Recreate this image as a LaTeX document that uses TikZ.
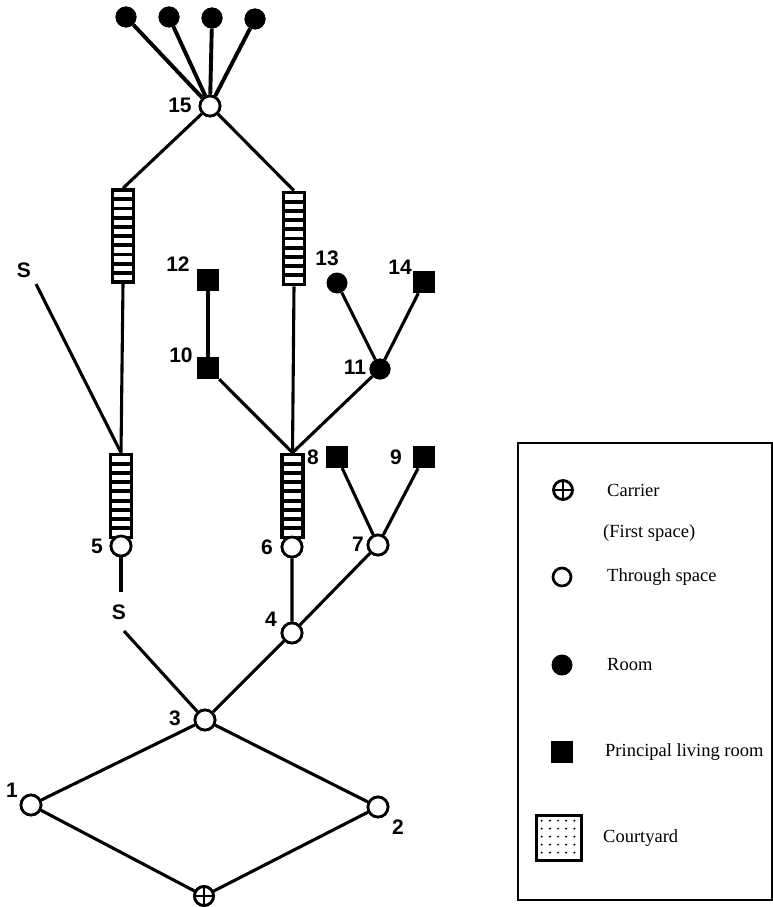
\documentclass[tikz,border=0pt]{standalone}
\usepackage{fontspec}
\setmainfont{Liberation Serif}
\newfontfamily\numfont{Liberation Sans}
\usetikzlibrary{calc}
\tikzset{
  edge/.style={line width=3.1pt},
  fan/.style={line width=3.9pt},
  through/.style={circle, draw, fill=white, line width=2.7pt, minimum size=20pt, inner sep=0pt},
  room/.style={circle, fill=black, minimum size=21pt, inner sep=0pt},
  plr/.style={rectangle, fill=black, minimum size=22pt, inner sep=0pt},
  carrier/.style={circle, draw, fill=white, line width=2.8pt, minimum size=19pt, inner sep=0pt,
     path picture={\draw[line width=2.8pt] (path picture bounding box.north) -- (path picture bounding box.south)
        (path picture bounding box.west) -- (path picture bounding box.east);}},
  ladderbox/.style={rectangle, draw, fill=white, line width=3.6pt, minimum width=21pt, inner sep=0pt,
     path picture={\foreach \k in {1,...,#1}{\draw[line width=3.8pt]
        ($(path picture bounding box.south west)!{\k/(#1+1)}!(path picture bounding box.north west)$) --
        ($(path picture bounding box.south east)!{\k/(#1+1)}!(path picture bounding box.north east)$);}}},
  num/.style={font=\numfont\bfseries\fontsize{21}{24}\selectfont, inner sep=0pt},
  legtext/.style={font=\fontsize{18.5}{22}\selectfont, anchor=west, inner sep=0pt},
}
\begin{document}
\begin{tikzpicture}[x=1pt,y=-1pt]
\useasboundingbox (0,0) rectangle (773,907);
% ---- nodes ----
\node[room] (r1) at (126,17) {};
\node[room] (r2) at (169,17) {};
\node[room] (r3) at (212,18) {};
\node[room] (r4) at (255,19) {};
\node[through] (n15) at (210,106) {};
\node[num] (l15) at (180,105) {15};

\node[ladderbox=9, minimum height=92pt] (LU) at (123,236) {};
\node[ladderbox=9, minimum height=92pt] (RU) at (294,238.5) {};
\node[ladderbox=8, minimum height=83pt] (LL) at (121,496) {};
\node[ladderbox=8, minimum height=83pt] (RL) at (292.5,496) {};

\node[num] (S1) at (24,270) {S};
\coordinate (s1e) at (36,284);
\node[through] (n5) at (121,546) {};
\node[num] (l5) at (97,546) {5};
\node[num] (S2) at (119,612) {S};
\coordinate (s2a) at (121,592);
\coordinate (s2b) at (124,631);

\node[plr] (p12) at (208,280) {};
\node[num] (l12) at (178,264) {12};
\node[plr] (p10) at (208,368) {};
\node[num] (l10) at (181,355) {10};
\node[room] (n13) at (337,283) {};
\node[num] (l13) at (327,258) {13};
\node[plr] (p14) at (424,282) {};
\node[num] (l14) at (400,267) {14};
\node[room] (n11) at (380,369) {};
\node[num] (l11) at (355,367) {11};

\node[plr] (p8) at (337,457) {};
\node[num] (l8) at (313,457) {8};
\node[plr] (p9) at (424,457) {};
\node[num] (l9) at (396,457) {9};
\node[through] (n6) at (292,547) {};
\node[num] (l6) at (267,547) {6};
\node[through] (n7) at (378,545) {};
\node[num] (l7) at (358,544) {7};
\node[through] (n4) at (292,633) {};
\node[num] (l4) at (271,619) {4};
\node[through] (n3) at (205,720) {};
\node[num] (l3) at (175,718) {3};
\node[through] (n1) at (31,805) {};
\node[num] (l1) at (12,790) {1};
\node[through] (n2) at (378,807) {};
\node[num] (l2) at (398,827) {2};
\node[carrier] (c0) at (204,896) {};

% ---- connectors ----
\draw[fan] (r1) -- (n15) (r2) -- (n15) (r3) -- (n15) (r4) -- (n15);
\draw[edge] (n15) -- (LU.north) (n15) -- (RU.north);
\draw[edge] (LU.south) -- (LL.north);
\draw[edge] (s1e) -- (LL.north);
\draw[edge] (n5) -- (s2a);
\draw[edge] (s2b) -- (n3);
\draw[edge] (RU.south) -- (RL.north);
\draw[edge] (p12) -- (p10);
\draw[edge] (p10) -- (RL.north);
\draw[edge] (n11) -- (RL.north);
\draw[edge] (n13) -- (n11) (p14) -- (n11);
\draw[edge] (p8) -- (n7) (p9) -- (n7);
\draw[edge] (n6) -- (n4) (n7) -- (n4) (n4) -- (n3);
\draw[edge] (n3) -- (n1) (n3) -- (n2) (n1) -- (c0) (n2) -- (c0);

% redraw nodes on top
\node[room] at (r1) {};
\node[room] at (r2) {};
\node[room] at (r3) {};
\node[room] at (r4) {};
\node[through] at (n15) {};
\node[ladderbox=9, minimum height=92pt] at (LU) {};
\node[ladderbox=9, minimum height=92pt] at (RU) {};
\node[ladderbox=8, minimum height=83pt] at (LL) {};
\node[ladderbox=8, minimum height=83pt] at (RL) {};
\node[through] at (n5) {};
\node[through] at (n6) {};
\node[through] at (n7) {};
\node[through] at (n4) {};
\node[through] at (n3) {};
\node[through] at (n1) {};
\node[through] at (n2) {};
\node[carrier] at (c0) {};
\node[room] at (n11) {};

% ---- legend ----
\draw[line width=2pt] (518,443) rectangle (772,900);
\node[carrier] (k1) at (563,490) {};
\node[legtext] (t1) at (607,490) {Carrier};
\node[legtext] (t1b) at (603,533) {(First space)};
\node[through, minimum size=18pt] (k2) at (562,577) {};
\node[legtext] (t2) at (607,577) {Through space};
\node[room] (k3) at (562,665) {};
\node[legtext] (t3) at (607,665) {Room};
\node[plr] (k4) at (562,752) {};
\node[legtext] (t4) at (605,752) {Principal living room};
\node[rectangle, draw, line width=3.8pt, minimum size=45pt, inner sep=0pt] (k5) at (559,838) {};
\foreach \i in {0,...,4}{\foreach \j in {0,...,4}{
  \fill ($(k5.north west)+(7+\i*8.2,7+\j*8)$) circle (1.1pt);}}
\node[legtext] (t5) at (603,838) {Courtyard};
\end{tikzpicture}
\end{document}
